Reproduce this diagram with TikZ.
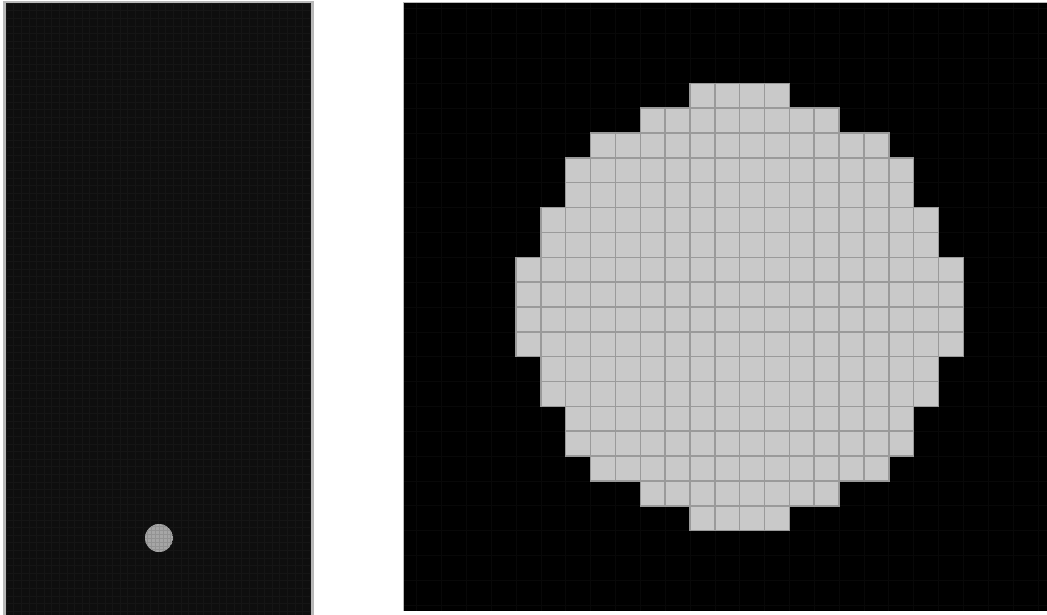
\documentclass[tikz,border=0pt]{standalone}
\definecolor{cellgray}{HTML}{C9C9C9}
\definecolor{cellline}{HTML}{9A9A9A}
\definecolor{panelbg}{HTML}{0E0E0E}
\definecolor{faint}{HTML}{151515}
\definecolor{faintr}{HTML}{080808}
\definecolor{bordergray}{HTML}{B8B8B8}
\definecolor{dotgray}{HTML}{A6A6A6}
\begin{document}
\begin{tikzpicture}[x=1pt,y=-1pt,
  cellbox/.style={fill=cellgray, draw=cellline, line width=1.5pt},
  faintgrid/.style={draw=faint, line width=0.5pt},
  faintgridr/.style={draw=faintr, line width=0.6pt}]
\useasboundingbox (0,0) rectangle (1047,615);
\fill[white] (0,0) rectangle (1047,615);
% left panel
\fill[bordergray] (3,1) rectangle (314,615);
\fill[panelbg] (6,3) rectangle (311,615);
\foreach \i in {0,...,40} {
  \draw[faintgrid] ({6+\i*7.6},3) -- ({6+\i*7.6},615);
}
\foreach \j in {0,...,80} {
  \draw[faintgrid] (6,{3+\j*7.6}) -- (311,{3+\j*7.6});
}
% small disk
\begin{scope}
  \clip (159,538) circle (14);
  \fill[dotgray] (159,538) circle (14);
  \foreach \k in {-3,...,3} {
    \draw[gray!85, line width=0.5pt] ({159+\k*3.9},520) -- ({159+\k*3.9},556);
    \draw[gray!85, line width=0.5pt] (141,{538+\k*3.9}) -- (177,{538+\k*3.9});
  }
\end{scope}
% right panel
\fill[gray!55] (403,2) rectangle (1047,611);
\fill[black] (404,3) rectangle (1047,611);
\foreach \k in {-4,...,21} {
  \draw[faintgridr] ({516+\k*24.85},3) -- ({516+\k*24.85},611);
}
\foreach \k in {-3,...,21} {
  \draw[faintgridr] (404,{83.3+\k*24.85}) -- (1047,{83.3+\k*24.85});
}
% pixelated disk
\foreach \r/\a/\b in {0/7/10,1/5/12,2/3/14,3/2/15,4/2/15,5/1/16,6/1/16,7/0/17,8/0/17,9/0/17,10/0/17,11/1/16,12/1/16,13/2/15,14/2/15,15/3/14,16/5/12,17/7/10} {
  \foreach \c in {\a,...,\b} {
    \path[cellbox] ({516+\c*24.85},{83.3+\r*24.85}) rectangle ++(24.85,24.85);
  }
}
\end{tikzpicture}
\end{document}
